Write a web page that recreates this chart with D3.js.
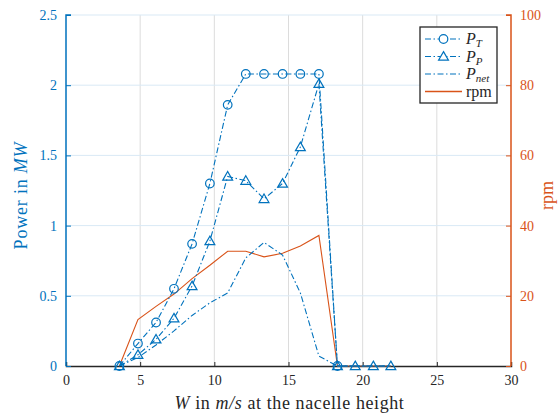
<!DOCTYPE html>
<html><head><meta charset="utf-8">
<script src="https://cdn.jsdelivr.net/npm/d3@7"></script>
<style>body{margin:0;background:#fff}svg{display:block}svg text{font-family:'Liberation Serif','Times New Roman',serif}</style>
</head><body>
<script>
const windSpeed = [3.6, 4.85, 6.07, 7.28, 8.5, 9.7, 10.9, 12.12, 13.35, 14.6, 15.8, 17.05, 18.3, 19.5, 20.72, 21.9];
const powerT   = [0, 0.16, 0.31, 0.55, 0.87, 1.30, 1.86, 2.08, 2.08, 2.08, 2.08, 2.08, 0, 0, 0, 0];
const powerP   = [0, 0.08, 0.19, 0.34, 0.57, 0.89, 1.35, 1.32, 1.19, 1.30, 1.56, 2.01, 0, 0, 0, 0];
const powerNet = [0, 0.06, 0.15, 0.25, 0.36, 0.45, 0.52, 0.77, 0.88, 0.79, 0.52, 0.07, 0, 0, 0, 0];
const rpm      = [0, 13.2, 17.0, 20.5, 24.9, 28.7, 32.7, 32.7, 31.1, 32.1, 34.2, 37.2, 0, 0, 0, 0];
const xTicks = [0, 5, 10, 15, 20, 25, 30];
const yLeftTicks = [0, 0.5, 1, 1.5, 2, 2.5];
const yRightTicks = [0, 20, 40, 60, 80, 100];

const W = 558, H = 416;
const m = {l: 66, r: 511, t: 15, b: 366};
const blue = "#0072BD", orange = "#D95319", dark = "#262626";
const font = "'Liberation Serif', 'Times New Roman', serif";

const svg = d3.select("body").append("svg").attr("width", W).attr("height", H)
  .attr("font-family", font);

const x = d3.scaleLinear().domain([0, 30]).range([m.l, m.r]);
const yL = d3.scaleLinear().domain([0, 2.5]).range([m.b, m.t]);
const yR = d3.scaleLinear().domain([0, 100]).range([m.b, m.t]);

// grid
svg.append("g").selectAll("line").data(xTicks.filter(d => d > 0 && d < 30)).join("line")
  .attr("x1", d => x(d)).attr("x2", d => x(d)).attr("y1", m.t).attr("y2", m.b)
  .attr("stroke", "#dcdcdc").attr("stroke-width", 1);
svg.append("g").selectAll("line").data(yLeftTicks.filter(d => d > 0)).join("line")
  .attr("x1", m.l).attr("x2", m.r).attr("y1", d => yL(d)).attr("y2", d => yL(d))
  .attr("stroke", "#d9e9f5").attr("stroke-width", 1);

function styleAxis(g, color) {
  g.attr("font-family", font).attr("font-size", 14);
  g.selectAll(".tick line").attr("stroke", color);
  g.selectAll("text").attr("fill", color).attr("font-family", font).attr("font-size", 14);
}

// x axis
const xAxis = svg.append("g").attr("transform", `translate(0,${m.b})`)
  .call(d3.axisBottom(x).tickValues(xTicks).tickSize(-4).tickPadding(9).tickFormat(d3.format("d")));
xAxis.select(".domain").attr("stroke", dark).attr("stroke-width", 1.5);
styleAxis(xAxis, dark);

// left axis
const lAxis = svg.append("g").attr("transform", `translate(${m.l},0)`)
  .call(d3.axisLeft(yL).tickValues(yLeftTicks).tickSize(-5).tickPadding(9).tickFormat(d => String(d)));
lAxis.select(".domain").attr("stroke", blue).attr("stroke-width", 1.5).attr("d", `M5,${m.t}H0V${m.b}`);
styleAxis(lAxis, blue);

// right axis
const rAxis = svg.append("g").attr("transform", `translate(${m.r},0)`)
  .call(d3.axisRight(yR).tickValues(yRightTicks).tickSize(-5).tickPadding(9));
rAxis.select(".domain").attr("stroke", orange).attr("stroke-width", 1.5).attr("d", `M-5,${m.t}H0V${m.b}`);
styleAxis(rAxis, orange);

const dashDot = "6,2.5,1.5,2.5";
function drawLine(vals, yS, color, dash) {
  const line = d3.line().x((d, i) => x(windSpeed[i])).y(d => yS(d));
  svg.append("path").datum(vals).attr("d", line).attr("fill", "none")
    .attr("stroke", color).attr("stroke-width", 1.1).attr("stroke-dasharray", dash);
}
drawLine(rpm, yR, orange, null);
drawLine(powerNet, yL, blue, dashDot);
drawLine(powerP, yL, blue, dashDot);
drawLine(powerT, yL, blue, dashDot);

const tri = d3.symbol().type(d3.symbolTriangle).size(42);
svg.append("g").selectAll("path").data(powerP).join("path")
  .attr("d", tri).attr("transform", (d, i) => `translate(${x(windSpeed[i])},${yL(d) + 0.8})`)
  .attr("fill", "none").attr("stroke", blue).attr("stroke-width", 1.2);
svg.append("g").selectAll("circle").data(powerT.slice(0, 13)).join("circle")
  .attr("cx", (d, i) => x(windSpeed[i])).attr("cy", d => yL(d)).attr("r", 4.3)
  .attr("fill", "none").attr("stroke", blue).attr("stroke-width", 1.2);

// axis labels
const ylab = svg.append("text").attr("transform", `translate(27,${(m.t + m.b) / 2 + 5}) rotate(-90)`)
  .attr("text-anchor", "middle").attr("fill", blue).attr("font-size", 18).attr("letter-spacing", 0.8);
ylab.append("tspan").text("Power in ");
ylab.append("tspan").text("MW").attr("font-style", "italic");

svg.append("text").attr("transform", `translate(553,${(m.t + m.b) / 2 + 5}) rotate(-90)`)
  .attr("text-anchor", "middle").attr("fill", orange).attr("font-size", 18).text("rpm");

const xlab = svg.append("text").attr("x", (m.l + m.r) / 2 + 1).attr("y", 409)
  .attr("text-anchor", "middle").attr("fill", dark).attr("font-size", 18).attr("letter-spacing", 0.6);
xlab.append("tspan").text("W").attr("font-style", "italic");
xlab.append("tspan").text(" in ");
xlab.append("tspan").text("m/s").attr("font-style", "italic");
xlab.append("tspan").text(" at the nacelle height");

// legend
const lg = svg.append("g").attr("transform", "translate(420,27)");
lg.append("rect").attr("width", 77).attr("height", 76).attr("fill", "#fff")
  .attr("stroke", dark).attr("stroke-width", 1.3);
const entries = [
  {name: "P", sub: "T", color: blue, dash: dashDot, marker: "circle"},
  {name: "P", sub: "P", color: blue, dash: dashDot, marker: "tri"},
  {name: "P", sub: "net", color: blue, dash: dashDot, marker: null},
  {name: "rpm", sub: null, color: orange, dash: null, marker: null}
];
entries.forEach((e, i) => {
  const yy = 12 + i * 17.5;
  lg.append("line").attr("x1", 5).attr("x2", 42).attr("y1", yy).attr("y2", yy)
    .attr("stroke", e.color).attr("stroke-width", e.dash ? 1.1 : 1.5).attr("stroke-dasharray", e.dash);
  if (e.marker === "circle") lg.append("circle").attr("cx", 23.5).attr("cy", yy).attr("r", 4.3)
    .attr("fill", "#fff").attr("stroke", blue).attr("stroke-width", 1.2);
  if (e.marker === "tri") lg.append("path").attr("d", tri).attr("transform", `translate(23.5,${yy + 0.8})`)
    .attr("fill", "#fff").attr("stroke", blue).attr("stroke-width", 1.2);
  const t = lg.append("text").attr("x", 46).attr("y", yy + 5).attr("fill", dark).attr("font-size", 16);
  if (e.sub) {
    t.append("tspan").text(e.name).attr("font-style", "italic");
    t.append("tspan").text(e.sub).attr("font-style", "italic").attr("font-size", 11).attr("dy", 3);
  } else {
    t.text(e.name);
  }
});
</script>
</body></html>
